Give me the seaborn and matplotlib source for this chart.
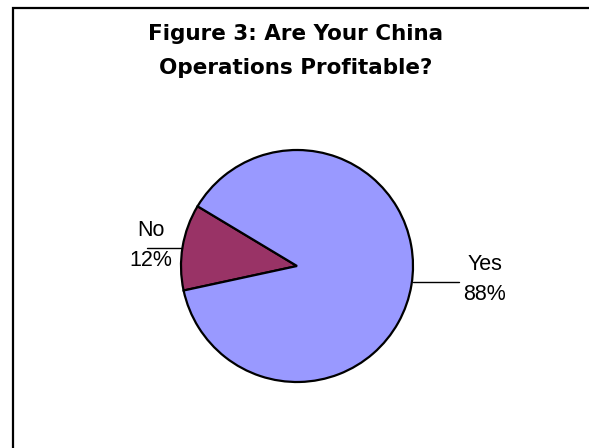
import matplotlib
matplotlib.use("Agg")
import matplotlib.pyplot as plt
from matplotlib.patches import Rectangle
import seaborn as sns

# Survey answers and their shares (percent)
categories = ["No", "Yes"]
shares = [12, 88]
colors = ["#993366", "#9999FF"]
title_lines = ["Figure 3: Are Your China", "Operations Profitable?"]

sns.set_theme(style="white")
plt.rcParams["font.family"] = ["Liberation Sans", "DejaVu Sans"]
plt.rcParams["text.color"] = "black"

W, H = 589, 448
fig = plt.figure(figsize=(W / 100, H / 100), dpi=100)
fig.patch.set_facecolor("white")

# Chart frame (runs off the right and bottom edges)
fig.patches.append(Rectangle((13 / W, -0.1), 1.2, (H - 8) / H + 0.1,
                             transform=fig.transFigure, fill=False,
                             edgecolor="black", linewidth=1.6, zorder=0))

# Pie placed so that radius 1 maps to 116 px, centered at (297, 266)
cx, cy, r = 297, 266, 116
ax = fig.add_axes([(cx - r) / W, (H - cy - r) / H, 2 * r / W, 2 * r / H])
ax.pie(shares, colors=colors, startangle=149, counterclock=True,
       wedgeprops=dict(edgecolor="black", linewidth=1.6))
ax.set_xlim(-1, 1)
ax.set_ylim(-1, 1)
ax.set_aspect("equal")
ax.axis("off")


def px(x, y):
    return (x - cx) / r, (cy - y) / r


# Leader lines and category labels
label_specs = {
    "No": dict(line=((147, 248), (182, 248)), center_x=151, y1=231, y2=261),
    "Yes": dict(line=((413, 282), (459, 282)), center_x=485, y1=265, y2=295),
}
for cat, val in zip(categories, shares):
    spec = label_specs[cat]
    (x0, y0), (x1, y1) = spec["line"]
    a, b = px(x0, y0)
    c, d = px(x1, y1)
    ax.plot([a, c], [b, d], color="black", linewidth=1.0, clip_on=False)
    tx, ty = px(spec["center_x"], spec["y1"])
    ax.text(tx, ty, cat, ha="center", va="center", fontsize=15.5,
            color="black", clip_on=False)
    tx, ty = px(spec["center_x"], spec["y2"])
    ax.text(tx, ty, f"{val:.0f}%", ha="center", va="center", fontsize=15.5,
            color="black", clip_on=False)

# Title
for line, ypx in zip(title_lines, [34, 68]):
    fig.text(296 / W, 1 - ypx / H, line, ha="center", va="center",
             fontsize=15.5, fontweight="bold", family="DejaVu Sans",
             color="black")

fig.savefig("out.png", dpi=100)
